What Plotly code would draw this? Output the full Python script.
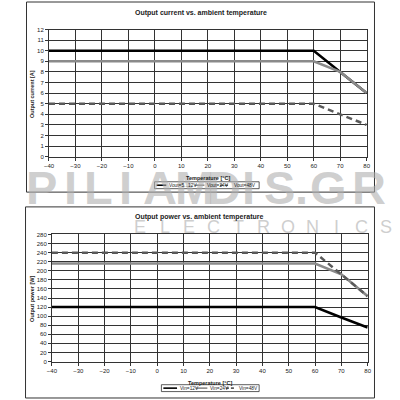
import plotly.graph_objects as go

# ---------------- data ----------------
temperature = [-40, 60, 70, 80]
current_5_12V = [10, 10, 8, 6]
current_24V = [9, 9, 8, 6]
current_48V = [5, 5, 4, 3]
power_12V = [120, 120, 97, 75]
power_24V = [216, 216, 192, 144]
power_48V = [240, 240, 192, 144]

top_names = ["Vout=5...12V", "Vout=24V", "Vout=48V"]
bottom_names = ["Vin=12V", "Vin=24V", "Vin=48V"]

top_title = "Output current vs. ambient temperature"
bottom_title = "Output power vs. ambient temperature"
x_title = "Temperature [°C]"
top_y_title = "Output current [A]"
bottom_y_title = "Output power [W]"

FONT = "Liberation Sans, Arial, sans-serif"
W = H = 400


def px(x):
    return x / W


def py(y):
    return 1 - y / H


styles = [
    dict(color="#000000", width=2.5, dash="solid"),
    dict(color="#8a8a8a", width=2.5, dash="solid"),
    dict(color="#5a5a5a", width=2.5, dash="6px,4px"),
]

fig = go.Figure()
for ys, name, st in zip([current_5_12V, current_24V, current_48V], top_names, styles):
    fig.add_trace(go.Scatter(x=temperature, y=ys, mode="lines", name=name,
                             line=st, xaxis="x", yaxis="y", showlegend=False))
for ys, name, st in zip([power_12V, power_24V, power_48V], bottom_names, styles):
    fig.add_trace(go.Scatter(x=temperature, y=ys, mode="lines", name=name,
                             line=st, xaxis="x2", yaxis="y2", showlegend=False))

axis_common = dict(
    showgrid=True, gridcolor="#333333", gridwidth=1,
    showline=True, linecolor="#333333", linewidth=1, mirror=True,
    ticks="outside", ticklen=3, tickcolor="#333333",
    tickfont=dict(family=FONT, size=6, color="#222222"),
    zeroline=False, fixedrange=True,
)

fig.update_layout(
    width=W, height=H,
    margin=dict(l=0, r=0, t=0, b=0),
    paper_bgcolor="white", plot_bgcolor="white",
    font=dict(family=FONT, color="#222222"),
    showlegend=False,
    xaxis=dict(domain=[px(45), px(370)], range=[-40, 80], dtick=10, anchor="y", **axis_common),
    yaxis=dict(domain=[py(156), py(27)], range=[0, 12], dtick=1, anchor="x", **axis_common),
    xaxis2=dict(domain=[px(48), px(371)], range=[-40, 80], dtick=10, anchor="y2", **axis_common),
    yaxis2=dict(domain=[py(364), py(235)], range=[0, 280], dtick=20, anchor="x2", **axis_common),
)

annotations = []
shapes = []


def text(x, y, s, size=6, bold=False, color="#222222", xanchor="center", angle=0):
    annotations.append(dict(
        x=px(x), y=py(y), xref="paper", yref="paper", text=f"<b>{s}</b>" if bold else s,
        showarrow=False, xanchor=xanchor, yanchor="middle", textangle=angle,
        font=dict(family=FONT, size=size, color=color),
    ))


# watermark (drawn first so chart text stays readable on top)
wm_letters = ["P", "I", "L", "I", "A", "M", "D", "I", "S", ".", "G", "R"]
wm_x = [37, 67, 96, 123, 159, 194, 224, 249, 281, 303, 331, 372]
for ch, x in zip(wm_letters, wm_x):
    text(x, 187, ch, size=47, bold=True, color="rgba(175,175,175,0.6)")
el_letters = list("ELECTRONICS")
for i, ch in enumerate(el_letters):
    text(138 + i * 25.2, 227, ch, size=18, color="rgba(190,190,190,0.75)")

# chart frames
shapes.append(dict(type="rect", xref="paper", yref="paper", x0=px(22), x1=px(378), y0=py(192), y1=py(-1),
                   line=dict(color="#333333", width=1)))
shapes.append(dict(type="rect", xref="paper", yref="paper", x0=px(21), x1=px(378), y0=py(401), y1=py(207),
                   line=dict(color="#333333", width=1)))

# titles
text(200, 10, top_title, size=7, bold=True)
text(198, 217, bottom_title, size=7, bold=True)
text(208, 178, x_title, size=5.5, bold=True)
text(210, 386, x_title, size=5.5, bold=True)
text(27, 92, top_y_title, size=5.5, bold=True, angle=-90)
text(27, 300, bottom_y_title, size=5.5, bold=True, angle=-90)


# manual legends
def legend(box, entries, yc):
    shapes.append(dict(type="rect", xref="paper", yref="paper", x0=px(box[0]), x1=px(box[1]),
                       y0=py(yc + 3.5), y1=py(yc - 3.5), line=dict(color="#333333", width=0.8),
                       fillcolor="rgba(255,255,255,0.6)"))
    for (x0, x1, tx, name), st in zip(entries, styles):
        shapes.append(dict(type="line", xref="paper", yref="paper", x0=px(x0), x1=px(x1),
                           y0=py(yc), y1=py(yc),
                           line=dict(color=st["color"], width=1.6,
                                     dash="3px,2px" if st["dash"] != "solid" else "solid")))
        text(tx, yc, name, size=4.8, xanchor="left")


legend((153, 260), [(155, 165, 166, top_names[0]), (194, 204, 205, top_names[1]),
                    (220, 230, 232, top_names[2])], 185)
legend((160, 260), [(162, 176, 177, bottom_names[0]), (195, 207, 208, bottom_names[1]),
                    (226, 236, 237, bottom_names[2])], 391)

fig.update_layout(annotations=annotations, shapes=shapes)
fig.write_html("out.html", config={"displayModeBar": False},
               post_script="document.body.style.margin='0px';document.body.style.overflow='hidden';")
